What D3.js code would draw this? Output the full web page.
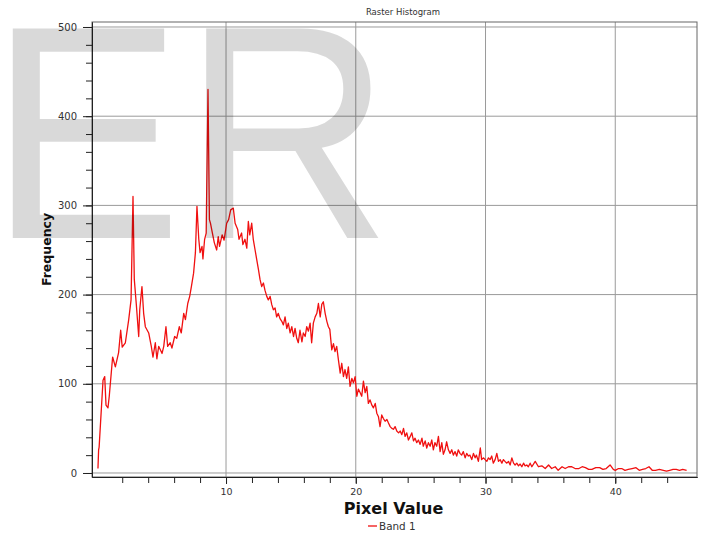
<!DOCTYPE html>
<html>
<head>
<meta charset="utf-8">
<script src="https://cdn.jsdelivr.net/npm/d3@7"></script>
<style>
  body { margin: 0; background: #fff; }
</style>
</head>
<body>
<script>
// bin centres (pixel value) and counts
var pixelValues = [
    0.13, 0.18, 0.22, 0.52, 0.65, 0.75, 0.9, 1.0, 1.26, 1.47,
    1.72, 1.88, 2.0, 2.24, 2.5, 2.68, 2.83, 2.93, 3.08, 3.27,
    3.35, 3.52, 3.65, 3.78, 4.04, 4.24, 4.37, 4.55, 4.67, 4.81,
    5.07, 5.2, 5.37, 5.5, 5.7, 5.83, 6.04, 6.2, 6.4, 6.55,
    6.74, 6.87, 7.05, 7.2, 7.33, 7.5, 7.64, 7.76, 7.9, 8.0,
    8.15, 8.22, 8.35, 8.47, 8.61, 8.72, 8.8, 8.95,
    9.1, 9.28, 9.4, 9.5, 9.7, 9.85, 10.05, 10.2, 10.36, 10.56,
    10.7, 10.9, 11.0, 11.2, 11.3, 11.46, 11.6, 11.72, 11.83, 11.98,
    12.1, 12.24, 12.37, 12.5, 12.62, 12.75, 12.88, 13.0, 13.14, 13.26,
    13.4, 13.52, 13.65, 13.78, 13.9, 14.03, 14.16, 14.3, 14.42, 14.55,
    14.68, 14.8, 14.94, 15.07, 15.2, 15.32, 15.45, 15.57, 15.7, 15.85,
    15.96, 16.1, 16.22, 16.35, 16.48, 16.6, 16.73, 16.87, 17.0, 17.12,
    17.26, 17.38, 17.5, 17.64, 17.77, 17.89,
    18.0, 18.15, 18.28, 18.4, 18.53, 18.66, 18.8, 18.92, 19.05, 19.17,
    19.3, 19.43, 19.56, 19.7, 19.82, 19.95, 20.08, 20.2, 20.34, 20.46,
    20.59, 20.72, 20.85, 20.97, 21.1, 21.24, 21.36, 21.5, 21.62, 21.75,
    21.87, 22.0, 22.13, 22.26, 22.4, 22.52, 22.65, 22.78, 22.9, 23.03,
    23.16, 23.3, 23.42, 23.55, 23.68, 23.8, 23.93, 24.06, 24.2, 24.32,
    24.45, 24.57, 24.7, 24.83, 24.96, 25.1, 25.2, 25.35, 25.47, 25.6,
    25.73, 25.86, 25.98, 26.1, 26.24, 26.37, 26.5, 26.63, 26.75, 26.88,
    27.0, 27.14, 27.27, 27.4, 27.52, 27.65, 27.78, 27.9, 28.03, 28.16,
    28.29, 28.43, 28.55, 28.68, 28.8, 28.94, 29.07, 29.2, 29.3, 29.45,
    29.6, 29.7, 29.85, 29.97, 30.1, 30.23, 30.35, 30.48, 30.6, 30.74,
    30.87, 31.0, 31.13, 31.26, 31.38, 31.5, 31.64, 31.77, 31.9, 32.03,
    32.16, 32.28, 32.41, 32.54, 32.67, 32.8, 32.93, 33.05, 33.18, 33.3,
    33.44, 33.57, 33.83, 34.08, 34.34, 34.6, 34.86, 35.1, 35.37, 35.6,
    35.9, 36.14,
    36.4, 36.65, 36.9, 37.2, 37.45, 37.7, 37.95, 38.2, 38.5, 38.8,
    39.05, 39.3, 39.6, 39.85, 40.0, 40.25, 40.5, 40.75, 41.0, 41.3,
    41.6, 41.85, 42.1, 42.35, 42.6, 42.85, 43.1, 43.4, 43.7, 43.95,
    44.2, 44.45, 44.7, 44.95, 45.2, 45.5
];

var frequency = [
    5, 26, 29, 104, 108, 76, 73, 86, 130, 119,
    135, 160, 141, 146, 172, 194, 310, 217, 190, 153,
    183, 209, 179, 164, 157, 142, 130, 146, 128, 142,
    134, 142, 164, 142, 146, 140, 153, 151, 164, 157,
    179, 172, 190, 198, 209, 224, 247, 299, 262, 247,
    254, 240, 262, 269, 430, 284, 280, 269,
    258, 250, 265, 254, 267, 261, 280, 284, 295, 297,
    280, 273, 262, 269, 256, 262, 252, 282, 267, 280,
    262, 250, 239, 228, 217, 209, 213, 205, 198, 194,
    198, 189, 183, 185, 175, 179, 173, 170, 166, 175,
    162, 168, 157, 164, 153, 162, 151, 146, 160, 147,
    157, 153, 164, 159, 168, 146, 168, 175, 179, 190,
    175, 189, 192, 179, 170, 164,
    161, 138, 145, 136, 142, 127, 112, 123, 108, 116,
    106, 119, 97, 106, 101, 108, 86, 94, 90, 86,
    103, 90, 97, 78, 82, 76, 73, 78, 67, 63,
    52, 65, 61, 58, 60, 56, 52, 50, 49, 52,
    47, 45, 47, 43, 50, 41, 45, 37, 41, 45,
    36, 39, 34, 37, 32, 39, 30, 36, 28, 34,
    30, 37, 26, 34, 30, 41, 24, 34, 21, 26,
    35, 26, 22, 26, 20, 24, 19, 26, 22, 20,
    24, 17, 22, 19, 20, 15, 22, 17, 20, 13,
    28, 15, 17, 15, 13, 17, 15, 19, 11, 15,
    22, 13, 15, 11, 15, 13, 11, 13, 9, 17,
    11, 9, 11, 8, 10, 7, 11, 8, 9, 7,
    11, 7, 13, 7, 8, 5, 9, 5, 7, 3,
    7, 5,
    7, 7, 5, 5, 7, 6, 4, 4, 6, 6,
    4, 5, 9, 4, 3, 5, 5, 3, 4, 5,
    6, 3, 4, 5, 7, 3, 3, 4, 3, 2,
    3, 4, 4, 3, 4, 3
];

var yMajorTicks = [0, 100, 200, 300, 400, 500];
var yMinorTicks = d3.range(0, 501, 20);
var xMajorTicks = [10, 20, 30, 40];
var xMinorTicks = d3.range(2, 45, 2);

var width = 704;
var height = 533;
// plot box in pixels (note: "top" is reserved on window, hence plotTop)
var plotLeft = 92, plotRight = 697, plotTop = 22, plotBottom = 477;

var data = pixelValues.map(function (v, i) { return { v: v, f: frequency[i] }; });

var svg = d3.select("body").append("svg")
    .attr("width", width)
    .attr("height", height);

var x = d3.scaleLinear().domain([-0.33, 46.3]).range([plotLeft, plotRight]);
var y = d3.scaleLinear().domain([-4.5, 505.6]).range([plotBottom, plotTop]);

// grid
svg.append("g").selectAll("line")
    .data(yMajorTicks)
    .enter().append("line")
    .attr("x1", plotLeft).attr("x2", plotRight)
    .attr("y1", function (d) { return y(d); })
    .attr("y2", function (d) { return y(d); })
    .attr("stroke", "#9a9a9a");

svg.append("g").selectAll("line")
    .data(xMajorTicks)
    .enter().append("line")
    .attr("y1", plotTop).attr("y2", plotBottom)
    .attr("x1", function (d) { return x(d); })
    .attr("x2", function (d) { return x(d); })
    .attr("stroke", "#9a9a9a");

// frame (top / right)
svg.append("rect")
    .attr("x", plotLeft).attr("y", plotTop)
    .attr("width", plotRight - plotLeft).attr("height", plotBottom - plotTop)
    .attr("fill", "none")
    .attr("stroke", "#666");

// histogram line
var line = d3.line()
    .x(function (d) { return x(d.v); })
    .y(function (d) { return y(d.f); });

svg.append("path")
    .datum(data)
    .attr("d", line)
    .attr("fill", "none")
    .attr("stroke", "#f01010")
    .attr("stroke-width", 1.3)
    .attr("stroke-linejoin", "round");

// y axis
svg.append("g")
    .attr("transform", "translate(" + plotLeft + ",0)")
    .call(d3.axisLeft(y).tickValues(yMinorTicks).tickSize(6).tickSizeOuter(0).tickFormat(""))
    .call(function (g) { g.selectAll("path,line").attr("stroke", "#222"); });

var yAxis = svg.append("g")
    .attr("transform", "translate(" + plotLeft + ",0)")
    .call(d3.axisLeft(y).tickValues(yMajorTicks).tickSize(9).tickSizeOuter(0).tickPadding(6));
yAxis.selectAll("path,line").attr("stroke", "#222");
yAxis.selectAll("text")
    .attr("font-family", "DejaVu Sans")
    .attr("font-size", "10px")
    .attr("fill", "#333");

// x axis
svg.append("g")
    .attr("transform", "translate(0," + plotBottom + ")")
    .call(d3.axisBottom(x).tickValues(xMinorTicks).tickSize(6).tickSizeOuter(0).tickFormat(""))
    .call(function (g) { g.selectAll("path,line").attr("stroke", "#222"); });

var xAxis = svg.append("g")
    .attr("transform", "translate(0," + plotBottom + ")")
    .call(d3.axisBottom(x).tickValues(xMajorTicks).tickSize(7).tickSizeOuter(0).tickPadding(4));
xAxis.selectAll("path,line").attr("stroke", "#222");
xAxis.selectAll("text")
    .attr("font-family", "DejaVu Sans")
    .attr("font-size", "9.5px")
    .attr("fill", "#333");

// title and axis labels
svg.append("text")
    .attr("x", 403).attr("y", 15)
    .attr("text-anchor", "middle")
    .attr("font-family", "DejaVu Sans")
    .attr("font-size", "8.5px")
    .attr("fill", "#333")
    .text("Raster Histogram");

svg.append("text")
    .attr("transform", "translate(51," + (plotTop + plotBottom) / 2 + ") rotate(-90)")
    .attr("text-anchor", "middle")
    .attr("font-family", "DejaVu Sans")
    .attr("font-weight", "bold")
    .attr("font-size", "12.5px")
    .attr("fill", "#111")
    .text("Frequency");

svg.append("text")
    .attr("x", 393.5).attr("y", 514)
    .attr("text-anchor", "middle")
    .attr("font-family", "DejaVu Sans")
    .attr("font-weight", "bold")
    .attr("font-size", "16px")
    .attr("fill", "#111")
    .text("Pixel Value");

// legend
svg.append("line")
    .attr("x1", 368).attr("x2", 377)
    .attr("y1", 526).attr("y2", 526)
    .attr("stroke", "#f01010")
    .attr("stroke-width", 1.3);

svg.append("text")
    .attr("x", 379).attr("y", 530)
    .attr("font-family", "DejaVu Sans")
    .attr("font-size", "10.4px")
    .attr("fill", "#333")
    .text("Band 1");

// watermark over the chart (slightly stretched vertically)
svg.append("text")
    .attr("transform", "translate(-11,238) scale(1,1.05)")
    .attr("font-family", "Liberation Sans")
    .attr("font-size", "290px")
    .attr("fill", "#000")
    .attr("fill-opacity", 0.15)
    .attr("pointer-events", "none")
    .text("ER");
</script>
</body>
</html>
